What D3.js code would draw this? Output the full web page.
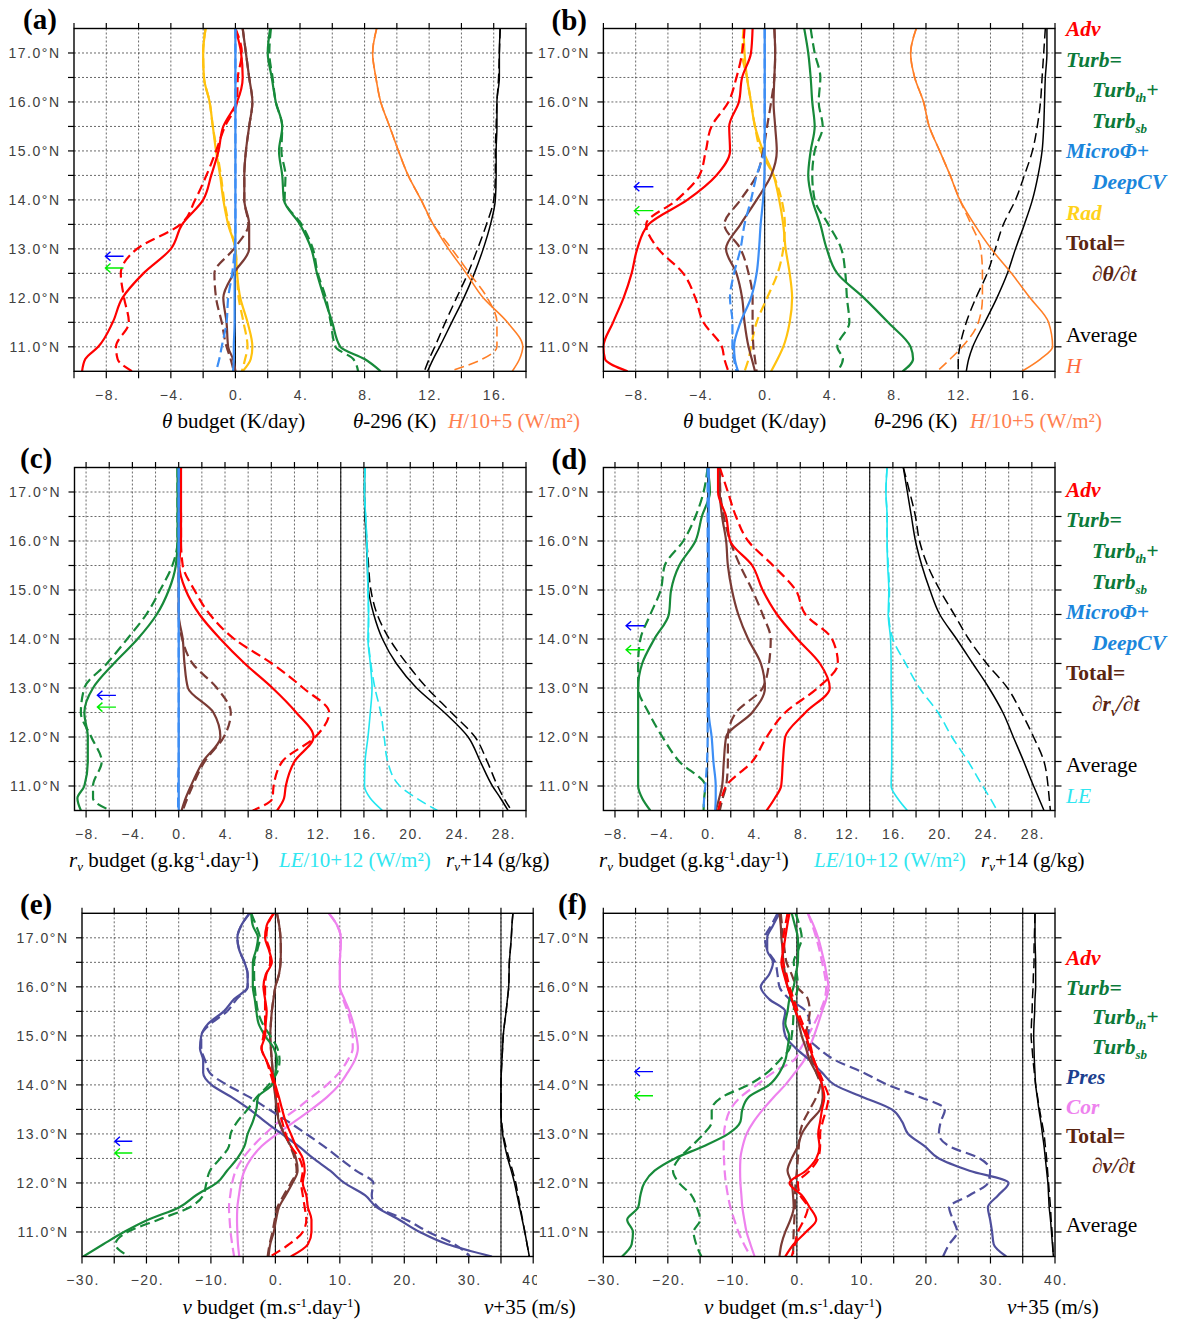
<!DOCTYPE html>
<html><head><meta charset="utf-8">
<script src="https://cdn.jsdelivr.net/npm/d3@7"></script>
<style>body{margin:0;background:#fff}svg{display:block}</style>
</head><body>
<svg id="c" width="1182" height="1322"></svg>
<script>
// ---------------- DATA ----------------
// latitude rows (°N), top to bottom
const LAT = [17.5,17.0,16.5,16.0,15.5,15.0,14.5,14.0,13.5,13.0,12.5,12.0,11.5,11.0,10.75,10.5];
const LATQ = [17.5,17.25,17,16.75,16.5,16.25,16,15.75,15.5,15.25,15,14.75,14.5,14.25,14,13.75,13.5,13.25,13,12.75,12.5,12.25,12,11.75,11.5,11.25,11,10.75,10.5];

// (a) theta budget (K/day), theta-296 (K), H/10+5
const a_adv_s = [0.0,0.35,0.45,0.1,-0.75,-1.05,-1.5,-2.0,-3.3,-4.0,-5.7,-7.0,-7.6,-8.5,-9.3,-9.5];
const a_adv_d = [0.0,0.4,0.15,0.1,-0.65,-1.2,-1.8,-2.5,-3.4,-6.1,-7.1,-6.9,-6.6,-7.4,-7.3,-6.4];
const a_turb_s = [2.15,2.0,2.25,2.5,2.9,2.7,2.9,3.0,4.0,4.7,5.05,5.5,6.0,6.5,8.0,9.0];
const a_turb_d = [2.2,2.1,2.3,2.5,2.9,2.85,3.1,3.05,4.1,4.8,5.1,5.6,5.9,6.2,7.3,7.6];
const a_mic_s = [0,0,0,0,0,0,0,0,0,0,-0.05,-0.05,-0.05,-0.1,-0.1,-0.15];
const a_mic_d = [0,0,0,0,0,0,0,0,0,-0.05,-0.2,-0.45,-0.55,-0.85,-1.0,-1.2];
const a_rad_s = [-1.85,-2.0,-1.95,-1.6,-1.4,-1.2,-0.95,-0.75,-0.45,0.0,0.1,0.3,0.75,1.05,0.95,0.45];
const a_rad_d = [-1.85,-2.0,-1.95,-1.6,-1.4,-1.15,-0.9,-0.7,-0.4,0.0,0.1,0.2,0.5,0.75,0.6,0.4];
const a_tot_s = [0.45,0.65,0.85,1.05,0.85,0.65,0.55,0.55,0.85,0.85,-0.1,-0.75,-0.55,-0.45,-0.15,0.0];
const a_tot_d = [0.45,0.65,0.85,1.05,0.85,0.65,0.55,0.55,0.8,-0.1,-1.3,-1.2,-0.85,-0.55,-0.3,-0.1];
const a_avg_s = [16.4,16.35,16.35,16.2,16.2,16.15,16.15,16.1,15.8,15.35,14.8,14.15,13.4,12.65,12.25,11.9];
const a_avg_d = [16.4,16.35,16.3,16.2,16.15,16.1,16.1,16.0,15.55,15.0,14.4,13.7,13.0,12.35,12.0,11.7];
const a_h_s = [8.75,8.5,8.7,9.0,9.55,10.1,10.7,11.5,12.25,13.2,14.3,15.35,16.85,17.8,17.6,17.15];
const a_h_d = [8.75,8.5,8.7,9.0,9.55,10.1,10.7,11.5,12.25,13.4,14.5,15.6,16.2,16.2,15.3,13.3];

// (b)
const b_adv_s = [-0.75,-0.85,-1.4,-1.6,-2.2,-2.15,-3.0,-4.8,-7.2,-7.9,-8.25,-8.75,-9.4,-10.0,-9.9,-8.5];
const b_adv_d = [-1.25,-1.4,-1.75,-2.25,-3.3,-3.65,-4.05,-5.45,-7.35,-6.6,-5.05,-4.3,-3.8,-2.65,-2.5,-2.25];
const b_turb_s = [2.45,2.7,2.85,2.95,3.1,2.85,2.7,2.95,3.45,3.85,4.5,6.15,7.65,9.05,9.2,8.55];
const b_turb_d = [2.85,3.1,3.45,3.35,3.6,3.1,2.95,3.1,3.95,4.75,5.0,5.1,5.25,4.5,4.85,4.5];
const b_mic_s = [0,0,0,0,0,0,-0.02,-0.1,-0.25,-0.35,-0.5,-0.85,-1.5,-1.9,-1.85,-1.65];
const b_mic_d = [0,0,0,0,0,-0.05,-0.5,-0.85,-1.25,-1.5,-1.9,-2.15,-2.0,-2.0,-1.9,-1.75];
const b_rad_s = [-1.3,-1.25,-1.1,-0.85,-0.6,-0.1,0.55,0.9,1.15,1.3,1.55,1.7,1.55,1.15,0.8,0.4];
const b_rad_d = [-1.3,-1.4,-1.1,-0.85,-0.6,-0.25,0.55,1.05,1.25,1.15,0.8,0.15,-0.5,-0.85,-1.0,-1.25];
const b_tot_s = [0.6,0.65,0.6,0.55,0.65,0.75,0.4,-0.5,-1.5,-2.4,-1.75,-1.4,-1.25,-1.0,-0.8,-0.6];
const b_tot_d = [0.6,0.65,0.6,0.4,0.15,-0.1,-0.5,-1.5,-2.5,-1.5,-1.0,-0.75,-0.75,-0.7,-0.6,-0.5];
const b_avg_s = [17.5,17.5,17.4,17.35,17.3,17.2,16.95,16.6,16.1,15.55,15.05,14.4,13.65,12.9,12.65,12.5];
const b_avg_d = [17.4,17.3,17.2,17.1,16.9,16.6,16.1,15.55,14.8,14.3,13.8,13.1,12.5,12.1,12.0,12.0];
const b_h_s = [9.4,9.05,9.3,9.85,10.2,10.85,11.5,12.1,13.0,14.05,15.3,16.45,17.6,17.85,17.1,15.95];
const b_h_d = [9.4,9.05,9.3,9.85,10.2,10.85,11.5,12.1,12.8,13.4,13.5,13.5,13.25,12.25,11.5,10.7];

// (c) r_v budget, LE/10+12, r_v+14
const c_turb_s = [-0.1,-0.1,-0.1,-0.1,-0.25,-0.85,-1.9,-3.55,-5.6,-7.4,-8.15,-7.85,-7.85,-8.15,-8.75,-8.45];
const c_turb_d = [-0.1,-0.1,-0.1,-0.1,-0.55,-1.6,-2.8,-4.45,-6.2,-8.15,-8.45,-7.55,-6.65,-7.4,-7.4,-5.9];
const c_adv_s = [0.2,0.2,0.2,0.2,0.05,0.6,1.8,3.6,5.7,8.1,10.15,11.65,10.0,9.25,9.1,8.5];
const c_adv_d = [0.2,0.15,0.2,0.2,0.35,1.35,2.7,4.8,8.05,10.75,13.0,11.8,8.95,8.2,8.1,6.4];
const c_mic_s = [0,0,0,0,0,0,0,0,0,0,0,0,0,0,0,0];
const c_mic_d = [0,0,0,0,0,0,0,0,0,0,0,0,0,-0.05,-0.05,-0.05];
const c_tot_s = [0,0,0,0,0,0,0,0.35,0.5,0.8,3.0,3.6,2.1,1.05,0.6,0.25];
const c_tot_d = [0,0,0,0,0,0,0,0.3,1.2,3.3,4.5,3.9,2.25,1.2,0.75,0.35];
const c_le_s = [16.1,16.05,16.15,16.25,16.3,16.35,16.4,16.35,16.55,16.7,16.55,16.35,16.1,16.05,16.55,17.6];
const c_le_d = [16.1,16.05,16.15,16.25,16.3,16.35,16.4,16.4,16.6,16.95,17.45,17.75,18.05,19.1,20.55,22.35];
const c_avg_s = [16.05,16.05,16.1,16.2,16.3,16.4,16.85,17.6,18.8,20.55,22.95,25.0,26.05,27.1,27.8,28.45];
const c_avg_d = [16.05,16.05,16.1,16.25,16.4,16.6,17.15,18.2,19.7,21.45,23.55,25.6,26.65,27.55,28.1,28.75];

// (d)
const d_turb_s = [0,0.2,-0.5,-1.05,-2.45,-3.15,-3.35,-4.6,-5.65,-6.0,-6.0,-6.0,-6.0,-6.0,-5.65,-4.95];
const d_turb_d = [0,-0.35,-1.05,-2.1,-3.7,-4.05,-4.95,-5.8,-6.0,-6.0,-5.1,-3.9,-2.45,-0.2,-0.3,-0.35];
const d_mic_s = [0.1,0.1,0.1,0.1,0.1,0.1,0.1,0.1,0.1,0.1,0.1,0.35,0.5,0.7,0.7,0.65];
const d_mic_d = [0,0,0,0,0,0,0,0,0,0,0,0,-0.05,-0.2,-0.3,-0.35];
const d_adv_s = [0.9,0.9,1.6,1.95,3.85,4.75,6.0,7.75,9.7,10.55,8.45,6.7,6.5,6.35,5.8,5.1];
const d_adv_d = [1.05,1.75,2.45,3.5,5.65,7.6,8.45,10.75,11.25,9.5,6.7,5.1,3.85,1.6,1.2,0.9];
const d_tot_s = [1.05,1.05,1.25,1.6,1.75,2.1,2.65,3.5,4.6,4.95,3.85,1.6,1.4,1.25,1.0,0.7];
const d_tot_d = [1.05,1.1,1.4,1.95,2.8,3.85,4.75,5.45,5.3,4.75,2.45,1.75,1.75,1.6,1.3,1.05];
const d_le_s = [15.5,15.4,15.5,15.5,15.55,15.65,15.6,15.8,15.85,15.85,15.9,15.9,15.9,15.85,16.4,17.25];
const d_le_d = [15.5,15.4,15.5,15.5,15.6,15.7,15.65,16.0,17.1,18.3,19.9,21.1,22.5,23.75,24.4,25.0];
const d_avg_s = [16.9,17.25,17.6,17.95,18.5,19.2,20.05,21.5,22.9,24.3,25.5,26.4,27.3,28.15,28.6,29.05];
const d_avg_d = [16.9,17.45,17.95,18.3,19.0,20.05,21.3,22.55,24.1,25.9,27.1,28.15,29.05,29.4,29.5,29.6];

// (e) v budget (m/s/day), v+35
const e_pres_s = [-4.0,-5.3,-5.9,-5.6,-4.8,-4.3,-4.3,-6.4,-8.0,-10.4,-11.5,-11.7,-11.2,-11.2,-9.9,-6.8,-4.0,-1.6,1.0,3.6,5.9,8.5,10.7,13.9,15.75,19.2,22.4,26.7,33.6];
const e_pres_d = [-4.0,-5.3,-5.9,-5.6,-4.8,-4.3,-4.3,-6.0,-7.5,-10.0,-11.5,-11.5,-10.9,-10.2,-7.5,-4.0,-1.0,2.0,4.8,7.5,10.0,12.5,15.2,14.95,16.0,20.3,23.75,27.8,30.2];
const e_turb_s = [-3.75,-3.5,-2.7,-3.0,-3.5,-3.5,-3.5,-3.2,-2.95,-2.6,-1.6,-0.25,0.25,0.0,-0.55,-2.7,-2.95,-3.5,-4.3,-4.8,-5.9,-7.5,-9.1,-12.3,-14.95,-19.75,-23.5,-26.7,-29.8];
const e_turb_d = [-3.75,-3.0,-2.4,-2.8,-3.3,-3.3,-3.2,-3.0,-2.7,-2.0,-0.8,0.3,0.65,0.25,-1.05,-2.9,-4.3,-5.9,-6.95,-7.2,-8.55,-10.15,-10.7,-11.2,-13.35,-18.15,-22.95,-24.8,-22.7];
const e_adv_s = [-0.25,-1.35,-1.6,-1.0,-0.55,-1.5,-1.85,-1.6,-1.35,-1.5,-1.6,-2.15,-1.4,-0.55,0.0,0.55,1.05,1.6,2.4,3.2,4.25,4.55,4.25,4.8,5.05,5.6,5.6,5.05,2.4];
const e_adv_d = [-0.25,-1.2,-1.4,-0.9,-0.8,-1.4,-1.6,-1.6,-1.6,-1.6,-1.85,-2.15,-1.4,-0.8,-0.25,0.3,0.55,1.05,1.6,2.4,3.75,4.25,4.0,4.25,4.55,4.8,4.25,2.15,-0.8];
const e_cor_s = [8.3,9.6,10.15,10.1,10.0,10.0,10.0,10.7,11.5,12.1,12.55,12.8,12.3,11.2,9.9,8.0,5.6,2.95,0.25,-2.15,-3.75,-4.8,-5.35,-5.65,-5.9,-5.95,-5.9,-5.8,-5.6];
const e_cor_d = [8.3,9.6,10.15,10.1,10.0,10.0,10.0,10.5,11.2,11.7,12.0,12.0,11.2,9.9,8.0,5.6,3.2,0.55,-1.6,-3.5,-5.05,-6.15,-6.7,-7.0,-7.2,-7.1,-6.95,-6.7,-6.4];
const e_tot_s = [0.25,0.6,0.8,0.85,0.8,0.55,0.0,-0.3,-0.55,-0.7,-0.8,-0.7,-0.55,-0.4,-0.25,0.0,0.25,0.55,1.35,2.4,3.2,3.45,2.65,1.6,0.55,0.1,-0.25,-0.8,-1.05];
const e_tot_d = [0.25,0.6,0.8,0.85,0.8,0.55,0.0,-0.3,-0.55,-0.7,-0.8,-0.7,-0.55,-0.4,-0.2,0.05,0.3,0.6,1.4,2.3,3.0,3.3,2.4,1.3,0.3,-0.1,-0.45,-0.9,-1.2];
const e_avg_s = [36.85,36.7,36.6,36.45,36.3,36.25,36.2,36.0,35.8,35.55,35.35,35.25,35.15,35.05,35.0,35.0,35.0,35.05,35.25,35.6,36.05,36.6,37.1,37.5,37.9,38.3,38.7,39.05,39.4];
const e_avg_d = [36.85,36.7,36.6,36.45,36.3,36.25,36.2,36.0,35.8,35.55,35.35,35.25,35.15,35.05,35.0,35.0,35.0,35.1,35.35,35.75,36.25,36.8,37.3,37.65,38.0,38.35,38.7,39.05,39.4];

// (f)
const f_pres_s = [-2.7,-3.7,-4.6,-4.6,-3.7,-4.3,-5.6,-4.3,-1.8,-2.1,-1.8,-0.2,2.0,3.9,5.85,10.25,14.7,16.3,17.25,19.8,22.0,26.75,32.8,31.2,29.6,29.95,30.25,30.5,32.45];
const f_pres_d = [-3.0,-4.0,-4.95,-4.6,-3.35,-3.0,-2.7,-1.15,1.4,2.0,1.7,3.3,6.0,10.3,14.1,19.15,22.95,22.3,22.0,23.6,28.35,29.95,29.6,26.75,23.6,24.2,24.85,23.6,22.65];
const f_turb_s = [-0.8,-0.3,0.15,0.2,0.15,-0.2,-0.5,-1.15,-1.45,-1.8,-1.2,-1.45,-1.8,-2.7,-4.3,-7.5,-8.45,-8.75,-10.65,-14.45,-18.9,-22.05,-23.65,-24.25,-24.6,-26.3,-25.4,-25.6,-27.1];
const f_turb_d = [-0.2,0.4,0.75,0.2,-0.5,0.0,0.15,-0.3,-0.5,-0.6,-0.8,-1.1,-2.7,-4.6,-7.5,-11.6,-13.2,-13.2,-14.45,-16.35,-18.25,-19.2,-18.25,-16.35,-15.5,-15.0,-16.0,-15.6,-14.8];
const f_adv_s = [-1.15,-1.5,-1.8,-2.1,-2.4,-2.0,-1.45,-0.8,-0.2,0.6,1.4,2.0,2.65,3.3,3.9,4.25,3.9,3.6,3.3,3.5,3.0,1.4,-1.15,0.75,2.0,3.0,1.4,-0.5,-1.8];
const f_adv_d = [-1.45,-1.8,-2.1,-2.2,-2.1,-1.6,-1.15,-0.5,0.15,0.9,1.7,2.2,2.65,3.5,4.25,4.9,4.55,4.0,3.6,3.6,3.3,2.0,0.15,0.5,1.7,1.1,0.15,-0.3,-0.8];
const f_tot_s = [-2.7,-2.5,-2.4,-2.2,-2.1,-1.8,-1.45,-0.8,-0.2,0.3,0.75,1.4,2.0,3.0,3.9,4.0,3.6,2.0,0.75,0.15,-0.8,-1.45,-0.8,-0.6,-0.5,-1.0,-1.8,-2.4,-2.7];
const f_tot_d = [-2.5,-2.3,-2.1,-1.9,-1.6,-0.8,0.0,1.7,2.0,1.7,1.4,1.8,2.35,3.0,3.6,3.0,2.0,1.0,0.45,0.3,0.15,0.0,-0.2,-0.3,-0.3,-0.4,-0.5,-0.55,-0.6];
const f_cor_s = [1.7,2.6,3.3,3.8,4.25,4.6,4.9,4.55,3.9,3.3,2.65,1.9,1.1,-0.3,-1.8,-3.6,-5.25,-6.7,-7.8,-8.4,-8.75,-8.8,-8.75,-8.6,-8.45,-8.15,-7.8,-7.2,-6.55];
const f_cor_d = [1.7,2.4,3.0,3.5,3.9,4.3,4.55,4.3,3.6,2.7,1.7,0.6,-0.5,-3.7,-6.2,-8.75,-10.3,-11.0,-11.3,-11.35,-11.3,-11.2,-11.0,-10.7,-10.3,-9.7,-9.05,-8.2,-7.15];
const f_avg_s = [36.9,36.9,36.9,36.95,37.0,37.0,37.0,36.9,36.85,36.75,36.7,36.75,36.8,36.9,37.0,37.25,37.5,37.8,38.05,38.3,38.5,38.7,38.9,39.0,39.1,39.3,39.45,39.6,39.75];
const f_avg_d = [36.9,36.85,36.8,36.75,36.75,36.65,36.6,36.5,36.45,36.35,36.3,36.45,36.6,36.8,37.0,37.3,37.6,37.95,38.3,38.5,38.7,38.85,39.0,39.15,39.3,39.4,39.55,39.65,39.75];

// arrow markers (latitude of blue / green arrows)
const arrowLatLeft = [12.85, 12.61];
const arrowLatRight = [14.27, 13.78];

// tick labels
const xLabelsAB = [-8,-4,0,4,8,12,16];
const xLabelsCD = [-8,-4,0,4,8,12,16,20,24,28];
const xLabelsEF = [-30,-20,-10,0,10,20,30,40];
const latLabels = [11,12,13,14,15,16,17];

// ---------------- STYLE ----------------
const C = {
  adv:'#ff0000', turb:'#178a3a', mic:'#3d8ef5', rad:'#ffc20e', tot:'#7a3b35',
  avg:'#000000', h:'#ff7f27', le:'#22e6f0', pres:'#4f4f9c', cor:'#ee82ee',
  advT:'#ff0000', turbT:'#0b7a3a', micT:'#1a86dc', radT:'#ffd21a', totT:'#5a2512',
  hT:'#ff6a3d', hTitle:'#ff7f50', leT:'#30e6f0', presT:'#1b3f8f', corT:'#ee82ee'
};
const SERIF = "'Liberation Serif','Times New Roman',serif";
const SANS = "'Liberation Sans',Arial,sans-serif";
const svg = d3.select('#c');

const fmtX = v => (v < 0 ? '\u2212' : '') + Math.abs(v) + '.';

function S(lat, v, color, dashed, w) { return {lat, v, color, dashed, w}; }

const panels = [
 { id:'a', x0:74, x1:526, y0:28.5, y1:371.3, xdom:[-10,18], tickStart:-10, tickStep:2, labels:xLabelsAB, vlines:[0],
   series:[S(LAT,a_avg_d,C.avg,1,1.5),S(LAT,a_avg_s,C.avg,0,1.5),S(LAT,a_h_d,C.h,1,1.6),S(LAT,a_h_s,C.h,0,1.6),
           S(LAT,a_rad_d,C.rad,1,2.2),S(LAT,a_rad_s,C.rad,0,2.2),S(LAT,a_tot_d,C.tot,1,2.2),S(LAT,a_tot_s,C.tot,0,2.2),
           S(LAT,a_turb_d,C.turb,1,2.2),S(LAT,a_turb_s,C.turb,0,2.2),S(LAT,a_adv_d,C.adv,1,2.2),S(LAT,a_adv_s,C.adv,0,2.2),
           S(LAT,a_mic_d,C.mic,1,2.2),S(LAT,a_mic_s,C.mic,0,2.2)],
   arrows:{lats:arrowLatLeft, head:-8.05, tail:-6.93},
   label:{t:'(a)', x:23, y:29, anchor:'start'},
   tickY:399.5, titleY:428,
   titles:[{x:162, parts:[{t:'\u03B8',i:1},{t:' budget (K/day)'}]},
           {x:353, parts:[{t:'\u03B8',i:1},{t:'-296 (K)'}]},
           {x:448, color:C.hTitle, parts:[{t:'H',i:1},{t:'/10+5 (W/m\u00B2)'}]}] },
 { id:'b', x0:603.4, x1:1055, y0:28.5, y1:371.3, xdom:[-10,18], tickStart:-10, tickStep:2, labels:xLabelsAB, vlines:[0],
   series:[S(LAT,b_avg_d,C.avg,1,1.5),S(LAT,b_avg_s,C.avg,0,1.5),S(LAT,b_h_d,C.h,1,1.6),S(LAT,b_h_s,C.h,0,1.6),
           S(LAT,b_rad_d,C.rad,1,2.2),S(LAT,b_rad_s,C.rad,0,2.2),S(LAT,b_tot_d,C.tot,1,2.2),S(LAT,b_tot_s,C.tot,0,2.2),
           S(LAT,b_turb_d,C.turb,1,2.2),S(LAT,b_turb_s,C.turb,0,2.2),S(LAT,b_adv_d,C.adv,1,2.2),S(LAT,b_adv_s,C.adv,0,2.2),
           S(LAT,b_mic_d,C.mic,1,2.2),S(LAT,b_mic_s,C.mic,0,2.2)],
   arrows:{lats:arrowLatRight, head:-8.08, tail:-6.9},
   label:{t:'(b)', x:587, y:30, anchor:'end'},
   tickY:399.5, titleY:428,
   titles:[{x:683, parts:[{t:'\u03B8',i:1},{t:' budget (K/day)'}]},
           {x:874, parts:[{t:'\u03B8',i:1},{t:'-296 (K)'}]},
           {x:970, color:C.hTitle, parts:[{t:'H',i:1},{t:'/10+5 (W/m\u00B2)'}]}] },
 { id:'c', x0:74.5, x1:526, y0:467.5, y1:810.5, xdom:[-9,30], tickStart:-8, tickStep:2, labels:xLabelsCD, vlines:[0,14],
   series:[S(LAT,c_avg_d,C.avg,1,1.5),S(LAT,c_avg_s,C.avg,0,1.5),S(LAT,c_le_d,C.le,1,1.6),S(LAT,c_le_s,C.le,0,1.6),
           S(LAT,c_tot_d,C.tot,1,2.2),S(LAT,c_tot_s,C.tot,0,2.2),S(LAT,c_turb_d,C.turb,1,2.2),S(LAT,c_turb_s,C.turb,0,2.2),
           S(LAT,c_adv_d,C.adv,1,2.2),S(LAT,c_adv_s,C.adv,0,2.2),S(LAT,c_mic_d,C.mic,1,2.2),S(LAT,c_mic_s,C.mic,0,2.2)],
   arrows:{lats:arrowLatLeft, head:-7.02, tail:-5.42},
   label:{t:'(c)', x:20, y:468, anchor:'start'},
   tickY:838.5, titleY:867,
   titles:[{x:69, parts:[{t:'r',i:1},{t:'v',i:1,sub:1},{t:' budget (g.kg'},{t:'-1',sup:1},{t:'.day'},{t:'-1',sup:1},{t:')'}]},
           {x:279, color:C.leT, parts:[{t:'LE',i:1},{t:'/10+12 (W/m\u00B2)'}]},
           {x:446, parts:[{t:'r',i:1},{t:'v',i:1,sub:1},{t:'+14 (g/kg)'}]}] },
 { id:'d', x0:603.4, x1:1055, y0:467.5, y1:810.5, xdom:[-9,30], tickStart:-8, tickStep:2, labels:xLabelsCD, vlines:[0,14],
   series:[S(LAT,d_avg_d,C.avg,1,1.5),S(LAT,d_avg_s,C.avg,0,1.5),S(LAT,d_le_d,C.le,1,1.6),S(LAT,d_le_s,C.le,0,1.6),
           S(LAT,d_tot_d,C.tot,1,2.2),S(LAT,d_tot_s,C.tot,0,2.2),S(LAT,d_turb_d,C.turb,1,2.2),S(LAT,d_turb_s,C.turb,0,2.2),
           S(LAT,d_adv_d,C.adv,1,2.2),S(LAT,d_adv_s,C.adv,0,2.2),S(LAT,d_mic_d,C.mic,1,2.2),S(LAT,d_mic_s,C.mic,0,2.2)],
   arrows:{lats:arrowLatRight, head:-7.04, tail:-5.46},
   label:{t:'(d)', x:587, y:469, anchor:'end'},
   tickY:838.5, titleY:867,
   titles:[{x:599, parts:[{t:'r',i:1},{t:'v',i:1,sub:1},{t:' budget (g.kg'},{t:'-1',sup:1},{t:'.day'},{t:'-1',sup:1},{t:')'}]},
           {x:814, color:C.leT, parts:[{t:'LE',i:1},{t:'/10+12 (W/m\u00B2)'}]},
           {x:981, parts:[{t:'r',i:1},{t:'v',i:1,sub:1},{t:'+14 (g/kg)'}]}] },
 { id:'e', x0:82, x1:533.2, y0:913.3, y1:1256.5, xdom:[-30,40], tickStart:-30, tickStep:5, labels:xLabelsEF, vlines:[0,35], clipLabel:537,
   series:[S(LATQ,e_avg_d,C.avg,1,1.5),S(LATQ,e_avg_s,C.avg,0,1.5),S(LATQ,e_cor_d,C.cor,1,2.2),S(LATQ,e_cor_s,C.cor,0,2.2),
           S(LATQ,e_pres_d,C.pres,1,2.2),S(LATQ,e_pres_s,C.pres,0,2.2),S(LATQ,e_tot_d,C.tot,1,2.2),S(LATQ,e_tot_s,C.tot,0,2.2),
           S(LATQ,e_turb_d,C.turb,1,2.2),S(LATQ,e_turb_s,C.turb,0,2.2),S(LATQ,e_adv_d,C.adv,1,2.2),S(LATQ,e_adv_s,C.adv,0,2.2)],
   arrows:{lats:arrowLatLeft, head:-24.9, tail:-22.2},
   label:{t:'(e)', x:20, y:914, anchor:'start'},
   tickY:1285, titleY:1314,
   titles:[{x:182.5, parts:[{t:'v',i:1},{t:' budget (m.s'},{t:'-1',sup:1},{t:'.day'},{t:'-1',sup:1},{t:')'}]},
           {x:484, parts:[{t:'v',i:1},{t:'+35 (m/s)'}]}] },
 { id:'f', x0:603.3, x1:1055, y0:913.3, y1:1256.5, xdom:[-30,40], tickStart:-30, tickStep:5, labels:xLabelsEF, vlines:[0,35],
   series:[S(LATQ,f_avg_d,C.avg,1,1.5),S(LATQ,f_avg_s,C.avg,0,1.5),S(LATQ,f_cor_d,C.cor,1,2.2),S(LATQ,f_cor_s,C.cor,0,2.2),
           S(LATQ,f_pres_d,C.pres,1,2.2),S(LATQ,f_pres_s,C.pres,0,2.2),S(LATQ,f_tot_d,C.tot,1,2.2),S(LATQ,f_tot_s,C.tot,0,2.2),
           S(LATQ,f_turb_d,C.turb,1,2.2),S(LATQ,f_turb_s,C.turb,0,2.2),S(LATQ,f_adv_d,C.adv,1,2.2),S(LATQ,f_adv_s,C.adv,0,2.2)],
   arrows:{lats:arrowLatRight, head:-25.1, tail:-22.3},
   label:{t:'(f)', x:587, y:914, anchor:'end'},
   tickY:1285, titleY:1314,
   titles:[{x:704, parts:[{t:'v',i:1},{t:' budget (m.s'},{t:'-1',sup:1},{t:'.day'},{t:'-1',sup:1},{t:')'}]},
           {x:1007, parts:[{t:'v',i:1},{t:'+35 (m/s)'}]}] }
];

function richText(g, x, y, parts, color, size) {
  const t = g.append('text').attr('x', x).attr('y', y).attr('font-family', SERIF)
    .attr('font-size', size).attr('fill', color || '#000');
  let shift = 0;
  parts.forEach(p => {
    const ts = t.append('tspan').text(p.t);
    let target = 0;
    if (p.sup) target = -7; else if (p.sub) target = 4;
    if (p.sub && p.big) target = 5;
    if (target !== shift) { ts.attr('dy', target - shift); shift = target; }
    if (p.sup || p.sub) ts.attr('font-size', p.subSize || size * 0.62);
    if (p.i) ts.attr('font-style', 'italic');
    if (p.b) ts.attr('font-weight', 'bold');
    if (p.c) ts.attr('fill', p.c);
  });
  return t;
}

panels.forEach(p => {
  const x = d3.scaleLinear().domain(p.xdom).range([p.x0, p.x1]);
  const y = d3.scaleLinear().domain([10.5, 17.5]).range([p.y1, p.y0]);
  const g = svg.append('g').attr('class', 'panel-' + p.id);
  const ticks = d3.range(p.tickStart, p.xdom[1] + 1e-6, p.tickStep);
  const inner = ticks.filter(v => v > p.xdom[0] + 1e-6 && v < p.xdom[1] - 1e-6);
  const yt = d3.range(11, 17.01, 0.5);

  // dotted grid
  g.append('g').selectAll('line').data(inner).join('line')
    .attr('x1', d => x(d)).attr('x2', d => x(d)).attr('y1', p.y0).attr('y2', p.y1)
    .attr('stroke', '#444').attr('stroke-width', 0.8).attr('stroke-dasharray', '2,2');
  g.append('g').selectAll('line').data(yt).join('line')
    .attr('x1', p.x0).attr('x2', p.x1).attr('y1', d => y(d)).attr('y2', d => y(d))
    .attr('stroke', '#444').attr('stroke-width', 0.8).attr('stroke-dasharray', '2,2');
  // solid reference lines
  g.append('g').selectAll('line').data(p.vlines).join('line')
    .attr('x1', d => x(d)).attr('x2', d => x(d)).attr('y1', p.y0).attr('y2', p.y1)
    .attr('stroke', '#000').attr('stroke-width', 1);

  // curves
  const clipId = 'clip-' + p.id;
  svg.append('clipPath').attr('id', clipId).append('rect')
    .attr('x', p.x0 - 1).attr('y', p.y0).attr('width', p.x1 - p.x0 + 2).attr('height', p.y1 - p.y0);
  const line = d3.line().x(d => x(d[1])).y(d => y(d[0])).curve(d3.curveMonotoneY);
  const cg = g.append('g').attr('clip-path', `url(#${clipId})`);
  p.series.forEach(s => {
    const pts = s.lat.map((l, i) => [l, s.v[i]]).filter(d => d[1] !== undefined);
    cg.append('path').attr('d', line(pts)).attr('fill', 'none')
      .attr('stroke', s.color).attr('stroke-width', s.w)
      .attr('stroke-linejoin', 'round').attr('stroke-linecap', 'butt')
      .attr('stroke-dasharray', s.dashed ? '10,5' : null);
  });

  // arrows
  const arrowColors = ['#0000ff', '#00ee00'];
  p.arrows.lats.forEach((lat, i) => {
    const yy = y(lat), xh = x(p.arrows.head), xt = x(p.arrows.tail);
    g.append('path').attr('d', `M${xt},${yy}L${xh},${yy}M${xh + 5},${yy - 4.5}L${xh},${yy}L${xh + 5},${yy + 4.5}`)
      .attr('fill', 'none').attr('stroke', arrowColors[i]).attr('stroke-width', 1.4);
  });

  // frame
  g.append('rect').attr('x', p.x0).attr('y', p.y0).attr('width', p.x1 - p.x0).attr('height', p.y1 - p.y0)
    .attr('fill', 'none').attr('stroke', '#000').attr('stroke-width', 1.4);
  // ticks
  const tk = g.append('g').attr('stroke', '#000').attr('stroke-width', 1.2);
  tk.selectAll('.tb').data(ticks).join('line').attr('x1', d => x(d)).attr('x2', d => x(d))
    .attr('y1', p.y1).attr('y2', p.y1 + 7);
  tk.selectAll('.tt').data(ticks).join('line').attr('x1', d => x(d)).attr('x2', d => x(d))
    .attr('y1', p.y0).attr('y2', p.y0 - 5.5);
  tk.selectAll('.tl').data(yt).join('line').attr('x1', p.x0 - 6).attr('x2', p.x0)
    .attr('y1', d => y(d)).attr('y2', d => y(d));
  tk.selectAll('.tr').data(yt).join('line').attr('x1', p.x1).attr('x2', p.x1 + 6.5)
    .attr('y1', d => y(d)).attr('y2', d => y(d));

  // x tick labels
  const lg = g.append('g');
  if (p.clipLabel) {
    svg.append('clipPath').attr('id', 'cl-' + p.id).append('rect')
      .attr('x', 0).attr('y', p.y1).attr('width', p.clipLabel).attr('height', 40);
    lg.attr('clip-path', `url(#cl-${p.id})`);
  }
  lg.selectAll('text').data(p.labels).join('text')
    .attr('x', d => x(d) + 1).attr('y', p.tickY).attr('text-anchor', 'middle')
    .attr('font-family', SANS).attr('font-size', 14).attr('letter-spacing', 1.5)
    .attr('fill', '#404040').text(fmtX);
  // y tick labels
  g.append('g').selectAll('text').data(latLabels).join('text')
    .attr('x', p.x0 - 13.5).attr('y', d => y(d) + 5).attr('text-anchor', 'end')
    .attr('font-family', SANS).attr('font-size', 14).attr('letter-spacing', 1.5)
    .attr('fill', '#404040').text(d => d.toFixed(1) + '\u00B0N');

  // panel label
  g.append('text').attr('x', p.label.x).attr('y', p.label.y).attr('text-anchor', p.label.anchor)
    .attr('font-family', SERIF).attr('font-weight', 'bold').attr('font-size', 29).text(p.label.t);

  // axis titles
  p.titles.forEach(t => richText(g, t.x, p.titleY, t.parts, t.color, 21));
});

// ---------------- LEGENDS ----------------
function L(slot, indent, parts) { return {slot, indent, parts}; }
const bi = (t, c) => ({t, c, b:1, i:1});
const sb = (t, c) => ({t, c, b:1, i:1, sub:1, subSize:13, big:1});
const turbItems = [
  L(0,0,[bi('Adv',C.advT)]),
  L(1,0,[bi('Turb=',C.turbT)]),
  L(2,1,[bi('Turb',C.turbT), sb('th',C.turbT), bi('+',C.turbT)]),
  L(3,1,[bi('Turb',C.turbT), sb('sb',C.turbT)])
];
const legends = [
  { y0:36, step:30.6, items: turbItems.concat([
      L(4,0,[bi('Micro\u03A6+',C.micT)]), L(5,1,[bi('DeepCV',C.micT)]), L(6,0,[bi('Rad',C.radT)]),
      L(7,0,[{t:'Total=',b:1,c:C.totT}]), L(8,1,[bi('\u2202\u03B8/\u2202t',C.totT)]),
      L(10,0,[{t:'Average',c:'#000'}]), L(11,0,[{t:'H',i:1,c:C.hT}]) ]) },
  { y0:496.7, step:30.6, items: turbItems.concat([
      L(4,0,[bi('Micro\u03A6+',C.micT)]), L(5,1,[bi('DeepCV',C.micT)]),
      L(6,0,[{t:'Total=',b:1,c:C.totT}]), L(7,1,[bi('\u2202r',C.totT), sb('v',C.totT), bi('/\u2202t',C.totT)]),
      L(9,0,[{t:'Average',c:'#000'}]), L(10,0,[{t:'LE',i:1,c:C.leT}]) ]) },
  { y0:965, step:29.7, items: turbItems.concat([
      L(4,0,[bi('Pres',C.presT)]), L(5,0,[bi('Cor',C.corT)]),
      L(6,0,[{t:'Total=',b:1,c:C.totT}]), L(7,1,[bi('\u2202v/\u2202t',C.totT)]),
      L(9,0,[{t:'Average',c:'#000'}]) ]) }
];
const lgG = svg.append('g');
legends.forEach(lg => lg.items.forEach(it => {
  richText(lgG, it.indent ? 1092 : 1066, lg.y0 + it.slot * lg.step, it.parts, '#000', 21.5);
}));
</script>
</body></html>
